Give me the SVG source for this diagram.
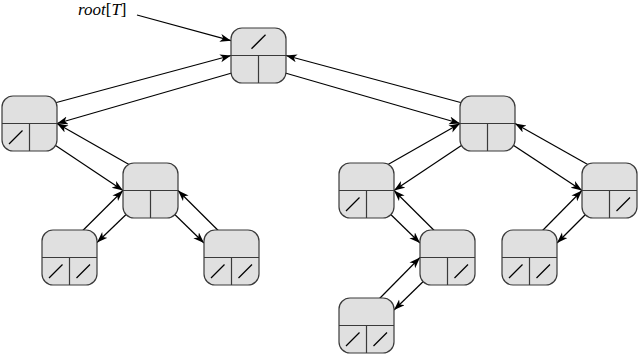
<svg xmlns="http://www.w3.org/2000/svg" width="638" height="354" viewBox="0 0 638 354">
<style>
.box{fill:#e0e0e0;stroke:#3a3a3a;stroke-width:1.2}
.div{stroke:#3a3a3a;stroke-width:1.2;fill:none}
.nil{stroke:#000;stroke-width:1.3;fill:none}
.c line{stroke:#000;stroke-width:1.2;fill:none;marker-end:url(#ah)}
</style>
<defs>
<marker id="ah" markerWidth="12" markerHeight="9" refX="11" refY="4" orient="auto" markerUnits="userSpaceOnUse">
<path d="M0,0 L11,4 L0,8 L3,4 z" fill="#000"/>
</marker>
<g id="nodebox">
<rect class="box" x="0" y="0" width="55" height="55" rx="11" ry="11"/>
<line class="div" x1="0" y1="27.5" x2="55" y2="27.5"/>
<line class="div" x1="27.5" y1="27.5" x2="27.5" y2="55"/>
</g>
<path id="nilT" class="nil" d="M20.5,20.75 L34.5,6.75"/>
<path id="nilL" class="nil" d="M7,48 L20.5,34.5"/>
<path id="nilR" class="nil" d="M34.5,48 L48,34.5"/>
</defs>

<g class="c" id="connectors">
<line x1="137" y1="15" x2="231" y2="40.7"/>
<line x1="29.5" y1="109.75" x2="231" y2="55.5"/>
<line x1="244.75" y1="69.25" x2="57" y2="123.5"/>
<line x1="487.5" y1="109.75" x2="286" y2="55.5"/>
<line x1="272.25" y1="69.25" x2="460" y2="123.5"/>
<line x1="150.5" y1="176.75" x2="57" y2="123.5"/>
<line x1="43.25" y1="137.25" x2="123" y2="190.5"/>
<line x1="69.5" y1="243.75" x2="123" y2="190.5"/>
<line x1="136.75" y1="204.25" x2="97" y2="242.5"/>
<line x1="231.5" y1="243.75" x2="178" y2="190.5"/>
<line x1="164.25" y1="204.25" x2="204" y2="243"/>
<line x1="366.5" y1="176.75" x2="460" y2="123.5"/>
<line x1="473.75" y1="137.25" x2="394" y2="190.5"/>
<line x1="609.5" y1="176.75" x2="515" y2="123.5"/>
<line x1="501.25" y1="137.25" x2="582" y2="190.5"/>
<line x1="447.5" y1="243.75" x2="394" y2="190.5"/>
<line x1="380.25" y1="204.25" x2="420" y2="243"/>
<line x1="529.5" y1="243.75" x2="582" y2="190.5"/>
<line x1="595.75" y1="204.25" x2="557" y2="243"/>
<line x1="366.5" y1="311.75" x2="420" y2="257.5"/>
<line x1="433.75" y1="271.25" x2="394" y2="310"/>
</g>

<g id="label-root">
<text x="78" y="15" font-family="'Liberation Serif', 'DejaVu Serif', serif" font-size="17" fill="#000"><tspan font-style="italic">root</tspan>[<tspan font-style="italic">T</tspan>]</text>
</g>

<g id="node-root" transform="translate(231,28)"><use href="#nodebox"/><use href="#nilT"/></g>
<g id="node-A" transform="translate(2,96)"><use href="#nodebox"/><use href="#nilL"/></g>
<g id="node-B" transform="translate(123,163)"><use href="#nodebox"/></g>
<g id="node-C" transform="translate(42,230)"><use href="#nodebox"/><use href="#nilL"/><use href="#nilR"/></g>
<g id="node-D" transform="translate(204,230)"><use href="#nodebox"/><use href="#nilL"/><use href="#nilR"/></g>
<g id="node-E" transform="translate(460,96)"><use href="#nodebox"/></g>
<g id="node-F" transform="translate(339,163)"><use href="#nodebox"/><use href="#nilL"/></g>
<g id="node-G" transform="translate(582,163)"><use href="#nodebox"/><use href="#nilR"/></g>
<g id="node-H" transform="translate(420,230)"><use href="#nodebox"/><use href="#nilR"/></g>
<g id="node-I" transform="translate(502,230)"><use href="#nodebox"/><use href="#nilL"/><use href="#nilR"/></g>
<g id="node-J" transform="translate(339,298)"><use href="#nodebox"/><use href="#nilL"/><use href="#nilR"/></g>
</svg>
